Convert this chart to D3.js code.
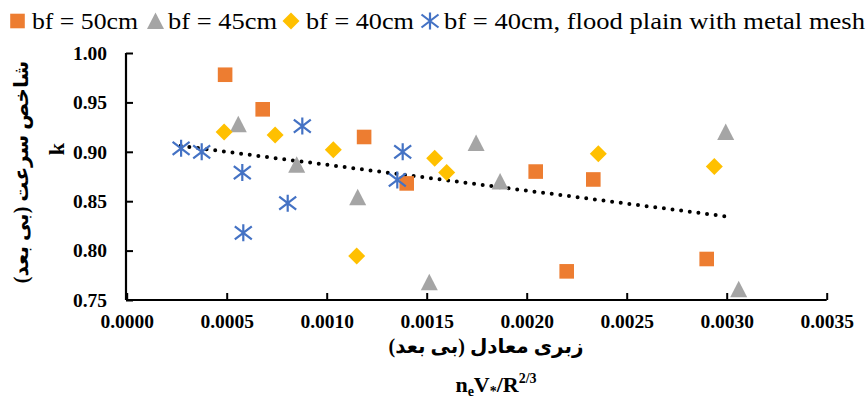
<!DOCTYPE html>
<html>
<head>
<meta charset="utf-8">
<script src="https://cdn.jsdelivr.net/npm/d3@7"></script>
<style>
  body { margin: 0; background: #fff; }
  text { font-family: "Liberation Serif", "DejaVu Sans", serif; }
</style>
</head>
<body>
<div id="chart"></div>
<script>
// chart size
const width = 867;
const height = 401;

// series values
const bf50X = [0.000492, 0.00068, 0.001187, 0.0014, 0.002045, 0.0022, 0.002333, 0.0029];
const bf50K = [0.978, 0.943, 0.915, 0.868, 0.880, 0.779, 0.872, 0.7915];

const bf45X = [0.000558, 0.00085, 0.001155, 0.001513, 0.001747, 0.001867, 0.002995, 0.00306];
const bf45K = [0.928, 0.887, 0.854, 0.768, 0.909, 0.870, 0.920, 0.761];

const bf40X = [0.000487, 0.000742, 0.001033, 0.00115, 0.00154, 0.0016, 0.002358, 0.002938];
const bf40K = [0.920, 0.917, 0.902, 0.7945, 0.8934, 0.879, 0.898, 0.885];

const meshX = [0.000272, 0.000375, 0.000578, 0.000805, 0.000583, 0.000878, 0.00138, 0.001353];
const meshK = [0.9035, 0.900, 0.879, 0.848, 0.818, 0.926, 0.900, 0.8715];

// dotted trend line ends
const trendX = [0.00027, 0.00302];
const trendK = [0.906, 0.834];

// tick labels
const xTicks = [0, 0.0005, 0.001, 0.0015, 0.002, 0.0025, 0.003, 0.0035];
const yTicks = [0.75, 0.80, 0.85, 0.90, 0.95, 1.00];

const seriesNames = ["bf = 50cm", "bf = 45cm", "bf = 40cm", "bf = 40cm, flood plain with metal mesh"];

const serif = "'Liberation Serif', 'Times New Roman', 'DejaVu Sans', serif";

const svg = d3.select("#chart").append("svg")
  .attr("width", width)
  .attr("height", height);

// plot area
const x = d3.scaleLinear().domain([0, 0.0035]).range([126.7, 826.7]);
const y = d3.scaleLinear().domain([0.75, 1.00]).range([300, 53]);

// marker shapes (centred on bounding box like Excel)
const markers = {
  square: "M-7.3,-7.3H7.3V7.3H-7.3Z",
  triangle: "M0,-8.5L8.5,8L-8.5,8Z",
  diamond: "M0,-8.5L8.5,0L0,8.5L-8.5,0Z",
  star: "M0,-8.5V8.5M-8.5,-6.5L8.5,6.5M-8.5,6.5L8.5,-6.5"
};

const series = [
  { name: seriesNames[0], xs: bf50X, ks: bf50K, shape: "square", color: "#ED7D31" },
  { name: seriesNames[1], xs: bf45X, ks: bf45K, shape: "triangle", color: "#A5A5A5" },
  { name: seriesNames[2], xs: bf40X, ks: bf40K, shape: "diamond", color: "#FFC000" },
  { name: seriesNames[3], xs: meshX, ks: meshK, shape: "star", color: "#4472C4" }
];

function drawMarker(sel, s) {
  if (s.shape === "star") {
    sel.append("path").attr("d", markers.star)
      .attr("fill", "none").attr("stroke", s.color).attr("stroke-width", 2.2);
  } else {
    sel.append("path").attr("d", markers[s.shape]).attr("fill", s.color);
  }
}

// axes
const yAxis = d3.axisLeft(y).tickValues(yTicks).tickSize(-7).tickPadding(19)
  .tickFormat(d3.format(".2f"));
const xAxis = d3.axisBottom(x).tickValues(xTicks).tickSize(-7).tickPadding(14)
  .tickFormat(d3.format(".4f"));

const gy = svg.append("g").attr("transform", "translate(126,0)").call(yAxis);
const gx = svg.append("g").attr("transform", "translate(0,300)").call(xAxis);

[gx, gy].forEach(g => {
  g.select(".domain").attr("stroke", "#000").attr("stroke-width", 2.2);
  g.selectAll(".tick line").attr("stroke", "#000").attr("stroke-width", 2);
  g.selectAll(".tick text")
    .style("font-family", serif)
    .style("font-weight", "bold")
    .style("font-size", "19.5px")
    .attr("fill", "#000");
});
gy.select(".domain").attr("d", "M0,53V300");
gx.select(".domain").attr("d", "M126.7,0H826.7");

// trend line
const trend = trendX.map((v, i) => [v, trendK[i]]);
svg.append("path")
  .attr("d", d3.line().x(d => x(d[0])).y(d => y(d[1]))(trend))
  .attr("fill", "none")
  .attr("stroke", "#000")
  .attr("stroke-width", 4)
  .attr("stroke-linecap", "round")
  .attr("stroke-dasharray", "0,8.7");

// points
series.forEach(s => {
  s.xs.forEach((v, i) => {
    const g = svg.append("g").attr("transform", `translate(${x(v)},${y(s.ks[i])})`);
    drawMarker(g, s);
  });
});

// legend
const legendPos = [
  { mx: 17.5, tx: 32, w: 106 },
  { mx: 155.5, tx: 168, w: 109 },
  { mx: 291, tx: 306, w: 108 },
  { mx: 430, tx: 444, w: 421 }
];
series.forEach((s, i) => {
  const p = legendPos[i];
  const g = svg.append("g").attr("transform", `translate(${p.mx},21)`);
  drawMarker(g, s);
  svg.append("text")
    .attr("x", p.tx).attr("y", 29)
    .style("font-family", serif)
    .attr("font-size", 23)
    .attr("textLength", p.w)
    .attr("lengthAdjust", "spacingAndGlyphs")
    .text(s.name);
});

// x axis titles
svg.append("text")
  .attr("x", 486).attr("y", 353)
  .attr("text-anchor", "middle")
  .attr("direction", "rtl")
  .attr("font-size", 20)
  .attr("font-weight", "bold")
  .text("زبری معادل (بی بعد)");

const f = svg.append("text")
  .attr("x", 496).attr("y", 392)
  .attr("text-anchor", "middle")
  .style("font-family", serif)
  .attr("font-size", 22)
  .attr("font-weight", "bold");
f.append("tspan").text("n");
f.append("tspan").attr("font-size", 14).attr("dy", 4).text("e");
f.append("tspan").attr("dy", -4).text("V");
f.append("tspan").attr("font-size", 14).attr("dy", 4).text("*");
f.append("tspan").attr("dy", -4).text("/R");
f.append("tspan").attr("font-size", 14).attr("dy", -9).text("2/3");

// y axis titles
svg.append("text")
  .attr("transform", "translate(28,172) rotate(-90)")
  .attr("text-anchor", "middle")
  .attr("direction", "rtl")
  .attr("font-size", 20)
  .attr("font-weight", "bold")
  .text("شاخص سرعت (بی بعد)");

svg.append("text")
  .attr("transform", "translate(64,149) rotate(-90)")
  .attr("text-anchor", "middle")
  .style("font-family", serif)
  .attr("font-size", 22)
  .attr("font-weight", "bold")
  .text("k");
</script>
</body>
</html>
